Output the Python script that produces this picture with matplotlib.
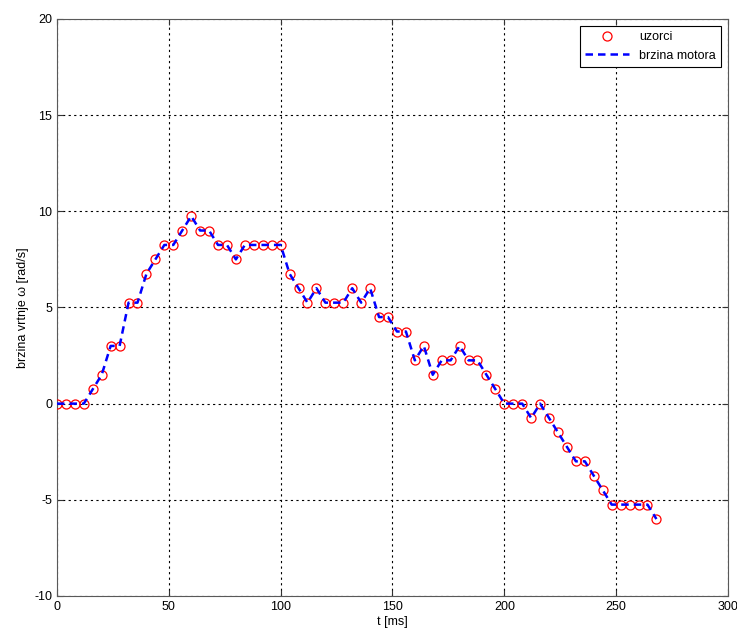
import matplotlib
matplotlib.use('Agg')
from matplotlib import pyplot as plt

# sample times [ms]
t_ms = [0, 4, 8, 12, 16, 20, 24, 28, 32, 36, 40, 44, 48, 52, 56, 60, 64, 68,
        72, 76, 80, 84, 88, 92, 96, 100, 104, 108, 112, 116, 120, 124, 128,
        132, 136, 140, 144, 148, 152, 156, 160, 164, 168, 172, 176, 180, 184,
        188, 192, 196, 200, 204, 208, 212, 216, 220, 224, 228, 232, 236, 240,
        244, 248, 252, 256, 260, 264, 268]

# measured speed [rad/s]
omega = [0, 0, 0, 0, 0.75, 1.5, 3, 3, 5.25, 5.25, 6.75, 7.5, 8.25, 8.25, 9,
         9.75, 9, 9, 8.25, 8.25, 7.5, 8.25, 8.25, 8.25, 8.25, 8.25, 6.75, 6,
         5.25, 6, 5.25, 5.25, 5.25, 6, 5.25, 6, 4.5, 4.5, 3.75, 3.75, 2.25, 3,
         1.5, 2.25, 2.25, 3, 2.25, 2.25, 1.5, 0.75, 0, 0, 0, -0.75, 0, -0.75,
         -1.5, -2.25, -3, -3, -3.75, -4.5, -5.25, -5.25, -5.25, -5.25, -5.25,
         -6]

xticks = [0, 50, 100, 150, 200, 250, 300]
yticks = [-10, -5, 0, 5, 10, 15, 20]

plt.rcParams['font.family'] = ['Liberation Sans', 'DejaVu Sans']
plt.rcParams['axes.unicode_minus'] = False

fig = plt.figure(figsize=(7.37, 6.32), dpi=100)
ax = fig.add_axes([0.0773, 0.057, 0.9105, 0.913])

ax.plot(t_ms, omega, 'o', mfc='none', mec='red', ms=6.5, mew=0.9,
        label='uzorci', zorder=3)
ax.plot(t_ms, omega, '--', color='blue', lw=1.8, dashes=(3, 2),
        label='brzina motora', zorder=4)

ax.set_xlim(0, 300)
ax.set_ylim(-10, 20)
ax.set_xticks(xticks)
ax.set_yticks(yticks)
ax.tick_params(direction='in', top=True, right=True, labelsize=9,
               length=4, color='0.2')
ax.grid(True, color='black', linestyle=(0, (2, 3)), linewidth=0.8)
for s in ax.spines.values():
    s.set_color('0.35')

ax.set_xlabel('t [ms]', fontsize=9, labelpad=2)
ax.set_ylabel('brzina vrtnje \u03c9 [rad/s]', fontsize=9, labelpad=4)

leg = ax.legend(loc='upper right', fontsize=9, fancybox=False,
                edgecolor='black', framealpha=1, handlelength=3.5,
                borderaxespad=0.6)
leg.get_frame().set_linewidth(0.8)

fig.savefig('out.png', dpi=100)
